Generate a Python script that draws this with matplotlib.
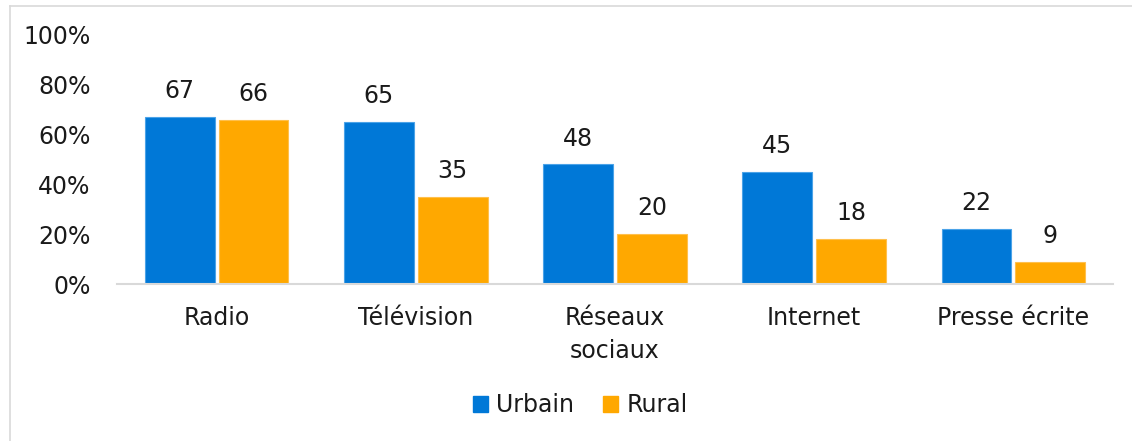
import matplotlib
matplotlib.use("Agg")
import matplotlib.pyplot as plt
from matplotlib.lines import Line2D
from matplotlib.patches import Patch
import numpy as np

categories = ["Radio", "Télévision", "Réseaux\nsociaux", "Internet", "Presse écrite"]
urbain = [67, 65, 48, 45, 22]
rural = [66, 35, 20, 18, 9]
yticks = [0, 20, 40, 60, 80, 100]
ytick_labels = ["0%", "20%", "40%", "60%", "80%", "100%"]

blue = "#0078D7"
orange = "#FFA800"
font = ["DejaVu Sans"]
plt.rcParams["font.family"] = font
fs = 17

W, H = 1132, 441
fig = plt.figure(figsize=(W / 100, H / 100), dpi=100)
ax = fig.add_axes([117 / W, 1 - 284 / H, (1113 - 117) / W, (284 - 35) / H])

x = np.arange(len(categories))
bw = 0.35
gap = 0.01
b1 = ax.bar(x - bw / 2 - gap, urbain, bw, color=blue, edgecolor="#4BA3E8", linewidth=0.8, zorder=2)
b2 = ax.bar(x + bw / 2 + gap, rural, bw, color=orange, edgecolor="#FFC04D", linewidth=0.8, zorder=2)

for bars, vals in ((b1, urbain), (b2, rural)):
    for rect, v in zip(bars, vals):
        ax.annotate(str(v), (rect.get_x() + rect.get_width() / 2, v),
                    xytext=(0, 10), textcoords="offset points",
                    ha="center", va="bottom", fontsize=fs, color="#1a1a1a")

ax.set_xlim(-0.5, len(categories) - 0.5)
ax.set_ylim(0, 100)
ax.set_yticks(yticks)
ax.set_yticklabels(ytick_labels, fontsize=fs, color="#1a1a1a")
ax.set_xticks(x)
ax.set_xticklabels(categories, fontsize=fs, color="#1a1a1a", linespacing=1.45)
ax.tick_params(axis="y", length=0, pad=19)
ax.tick_params(axis="x", length=0, pad=16)
for s in ("top", "right", "left"):
    ax.spines[s].set_visible(False)
ax.spines["bottom"].set_color("#D9D9D9")
ax.spines["bottom"].set_linewidth(1.5)

handles = [Patch(facecolor=blue, edgecolor=blue), Patch(facecolor=orange, edgecolor=orange)]
fig.legend(handles, ["Urbain", "Rural"], loc="center", bbox_to_anchor=(580 / W, 1 - 405 / H),
           ncol=2, frameon=False, fontsize=fs, handlelength=0.65, handleheight=0.65,
           handletextpad=0.35, columnspacing=1.2, labelcolor="#1a1a1a")

# figure border (left and top visible)
fig.add_artist(Line2D([10 / W, 10 / W], [0, 1 - 6 / H], transform=fig.transFigure, color="#D9D9D9", lw=1.2))
fig.add_artist(Line2D([10 / W, 1], [1 - 6 / H, 1 - 6 / H], transform=fig.transFigure, color="#D9D9D9", lw=1.2))

fig.savefig("out.png", dpi=100)
